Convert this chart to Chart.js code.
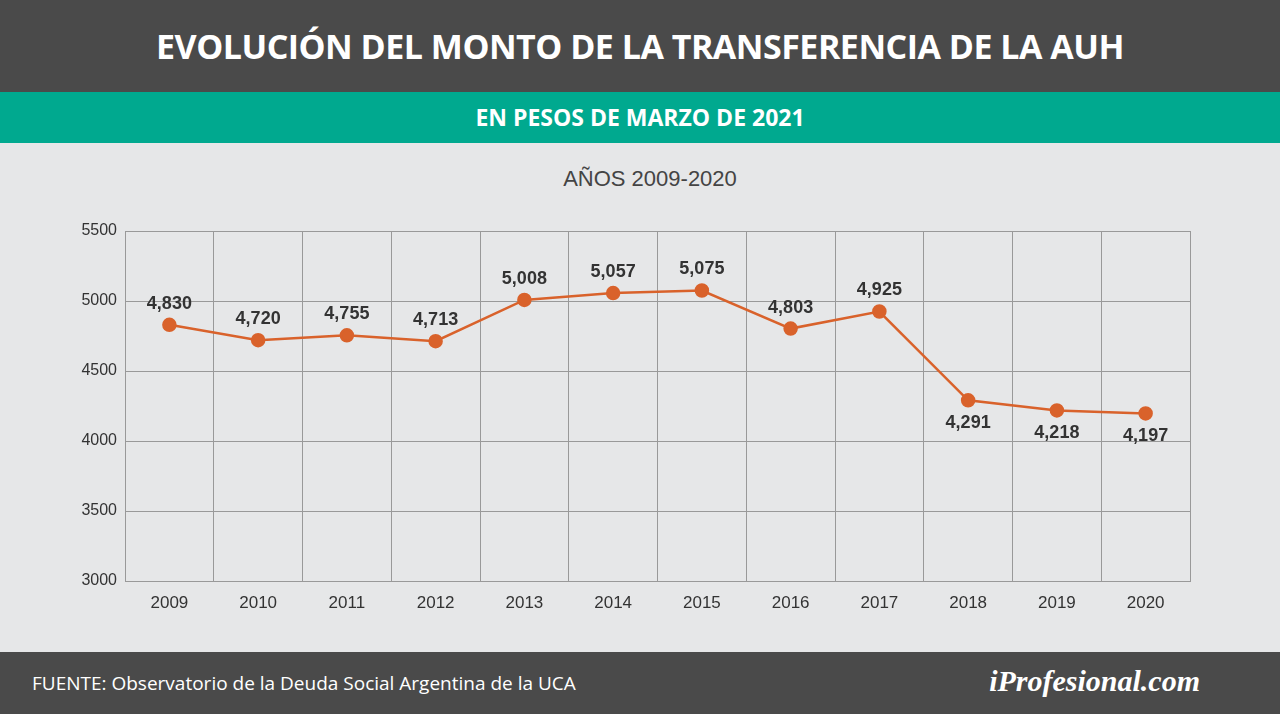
<!DOCTYPE html>
<html><head><meta charset="utf-8">
<script src="https://cdn.jsdelivr.net/npm/chart.js@4"></script>
<style>
body{margin:0;width:1280px;height:714px;overflow:hidden;background:#e6e7e8;font-family:"Liberation Sans",Arial,sans-serif;position:relative}
#h1{position:absolute;left:0;top:0;width:1280px;height:92px;background:#4a4a4a;color:#fff;font-family:"Open Sans";font-weight:700;font-size:34px;line-height:92px;text-align:center;letter-spacing:-0.5px}
#h2{position:absolute;left:0;top:92px;width:1280px;height:51px;background:#00a98f;color:#fff;font-family:"Open Sans";font-weight:700;font-size:23px;line-height:51px;text-align:center}
#t{position:absolute;left:0;top:166px;width:1300px;text-align:center;font-size:22px;color:#444}
#c{position:absolute;left:0;top:143px;width:1280px;height:509px}
#f{position:absolute;left:0;top:652px;width:1280px;height:62px;background:#4a4a4a;color:#fff}
#f1{position:absolute;left:32px;top:18px;font-family:"Open Sans";font-size:19px}
#f2{position:absolute;right:80px;top:12px;font-family:"Liberation Serif";font-style:italic;font-weight:700;font-size:30px}
</style></head><body>
<div id="h1">EVOLUCIÓN DEL MONTO DE LA TRANSFERENCIA DE LA AUH</div>
<div id="h2">EN PESOS DE MARZO DE 2021</div>
<div id="t">AÑOS 2009-2020</div>
<div id="c"><canvas id="cv" width="1280" height="509"></canvas></div>
<div id="f"><div id="f1">FUENTE: Observatorio de la Deuda Social Argentina de la UCA</div><div id="f2">iProfesional.com</div></div>
<script>
const years=["2009","2010","2011","2012","2013","2014","2015","2016","2017","2018","2019","2020"];
const values=[4830,4720,4755,4713,5008,5057,5075,4803,4925,4291,4218,4197];
const labelBelow=[false,false,false,false,false,false,false,false,false,true,true,true];
const lbl={id:'lbl',afterDatasetsDraw(ch){const c=ch.ctx;const m=ch.getDatasetMeta(0);c.save();c.font='bold 18px "Liberation Sans",Arial';c.fillStyle='#333';c.textAlign='center';
m.data.forEach((p,i)=>{c.textBaseline=labelBelow[i]?'top':'bottom';c.fillText(values[i].toLocaleString('en-US'),p.x,labelBelow[i]?p.y+14:p.y-12);});c.restore();}};
new Chart(document.getElementById('cv'),{type:'line',
data:{labels:years,datasets:[{data:values,borderColor:'#d9622b',backgroundColor:'#d9622b',borderWidth:2.5,pointRadius:6,pointHoverRadius:6,tension:0}]},
options:{responsive:false,animation:false,layout:{padding:{left:0,right:90,top:88,bottom:0}},
plugins:{legend:{display:false},tooltip:{enabled:false}},
scales:{x:{offset:true,grid:{offset:true,color:'#999',drawTicks:false},border:{color:'#999'},ticks:{color:'#333',font:{size:17},padding:12},afterFit(s){s.height=71;}},
y:{min:3000,max:5500,ticks:{stepSize:500,color:'#333',font:{size:16},padding:8,callback:v=>String(v)},grid:{color:'#999',drawTicks:false},border:{color:'#999'},afterFit(s){s.width=125;}}}},
plugins:[lbl]});
</script></body></html>
